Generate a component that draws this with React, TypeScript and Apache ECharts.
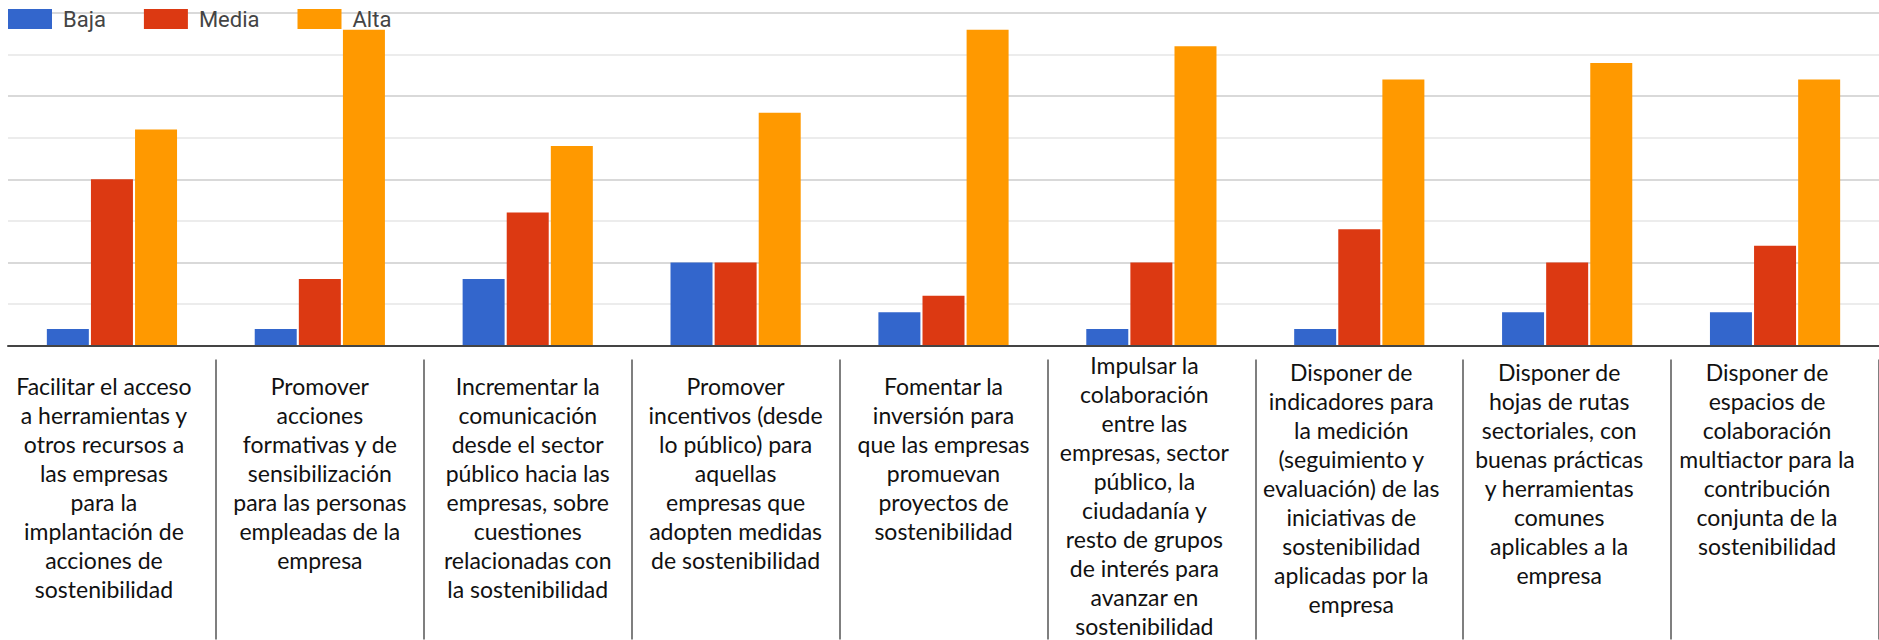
import React, { useEffect, useRef } from "react";
import * as echarts from "echarts";

const categories: string[] = [
  "Facilitar el acceso\na herramientas y\notros recursos a\nlas empresas\npara la\nimplantación de\nacciones de\nsostenibilidad",
  "Promover\nacciones\nformativas y de\nsensibilización\npara las personas\nempleadas de la\nempresa",
  "Incrementar la\ncomunicación\ndesde el sector\npúblico hacia las\nempresas, sobre\ncuestiones\nrelacionadas con\nla sostenibilidad",
  "Promover\nincentivos (desde\nlo público) para\naquellas\nempresas que\nadopten medidas\nde sostenibilidad",
  "Fomentar la\ninversión para\nque las empresas\npromuevan\nproyectos de\nsostenibilidad",
  "Impulsar la\ncolaboración\nentre las\nempresas, sector\npúblico, la\nciudadanía y\nresto de grupos\nde interés para\navanzar en\nsostenibilidad",
  "Disponer de\nindicadores para\nla medición\n(seguimiento y\nevaluación) de las\niniciativas de\nsostenibilidad\naplicadas por la\nempresa",
  "Disponer de\nhojas de rutas\nsectoriales, con\nbuenas prácticas\ny herramientas\ncomunes\naplicables a la\nempresa",
  "Disponer de\nespacios de\ncolaboración\nmultiactor para la\ncontribución\nconjunta de la\nsostenibilidad",
];

const seriesNames: string[] = ["Baja", "Media", "Alta"];
const baja: number[] = [1, 1, 4, 5, 2, 1, 1, 2, 2];
const media: number[] = [10, 4, 8, 5, 3, 5, 7, 5, 6];
const alta: number[] = [13, 19, 12, 14, 19, 18, 16, 17, 16];
const colors: string[] = ["#3366cc", "#dc3912", "#ff9900"];

// groups of categories whose labels sit at different offsets
const labelGroups: { idx: number[]; margin: number; shift: number }[] = [
  { idx: [1, 2, 3, 4], margin: 25.5, shift: 0 },
  { idx: [0], margin: 25.5, shift: -8 },
  { idx: [5], margin: 4.5, shift: -7 },
  { idx: [6, 7, 8], margin: 11.5, shift: -8 },
];

export default function App() {
  const ref = useRef<HTMLDivElement>(null);
  useEffect(() => {
    if (!ref.current) return;
    const chart = echarts.init(ref.current, null, { renderer: "svg" });
    const labelFont = "Lato, 'Open Sans', sans-serif";
    const labelAxes = labelGroups.map((g, gi) => ({
      type: "category",
      data: categories,
      position: "bottom",
      boundaryGap: true,
      axisLine: gi === 0 ? { show: true, lineStyle: { color: "#444444", width: 2 } } : { show: false },
      axisTick: { show: false },
      splitLine: { show: false },
      axisLabel: {
        show: true,
        interval: 0,
        margin: g.margin,
        color: "#111111",
        fontFamily: labelFont,
        fontSize: 23,
        lineHeight: 29,
        verticalAlign: "top",
        align: "center",
        padding: g.shift < 0 ? [0, -2 * g.shift, 0, 0] : [0, 0, 0, 2 * g.shift],
        formatter: (v: string, i: number) => (g.idx.indexOf(i) >= 0 ? v : ""),
      },
      z: 3,
    }));
    const sepAxis = {
      type: "category",
      data: categories,
      position: "bottom",
      offset: 14,
      boundaryGap: true,
      axisLine: { show: false },
      axisLabel: { show: false },
      splitLine: { show: false },
      axisTick: {
        show: true,
        length: 280,
        interval: (i: number) => i > 0,
        lineStyle: { color: "#555555", width: 1.5 },
      },
    };
    chart.setOption({
      animation: false,
      backgroundColor: "#ffffff",
      color: colors,
      legend: {
        data: seriesNames,
        left: 8,
        top: 8,
        icon: "rect",
        itemWidth: 44,
        itemHeight: 20,
        itemGap: 38,
        padding: 0,
        textStyle: {
          fontFamily: "Roboto, Arial, sans-serif",
          fontSize: 22,
          color: "#444444",
          padding: [0, 0, 0, 6],
        },
      },
      grid: { left: 8, right: -6, top: 13, bottom: 287, containLabel: false },
      xAxis: [...labelAxes, sepAxis],
      yAxis: {
        type: "value",
        min: 0,
        max: 20,
        interval: 2.5,
        axisLabel: { show: false },
        axisLine: { show: false },
        axisTick: { show: false },
        splitLine: {
          show: true,
          lineStyle: { color: ["#cccccc", "#e6e6e6"], width: 1.5 },
        },
      },
      series: [baja, media, alta].map((d, i) => ({
        name: seriesNames[i],
        type: "bar",
        data: d,
        xAxisIndex: 0,
        barWidth: 42,
        barGap: "5%",
        itemStyle: { color: colors[i] },
      })),
    });
    return () => chart.dispose();
  }, []);
  return (
    <div
      ref={ref}
      style={{ position: "absolute", left: 0, top: 0, width: 1879, height: 640 }}
    />
  );
}
